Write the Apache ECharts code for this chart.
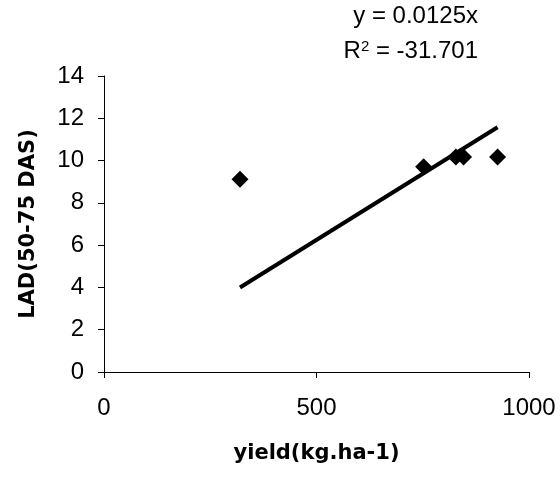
<!DOCTYPE html>
<html>
<head>
<meta charset="utf-8">
<script src="https://cdn.jsdelivr.net/npm/echarts@6/dist/echarts.min.js"></script>
<style>html,body{margin:0;padding:0;background:#fff}#c{width:560px;height:479px}</style>
</head>
<body>
<div id="c"></div>
<script>
var yieldValues = [320, 752, 828, 846, 926];
var ladValues = [9.12, 9.71, 10.17, 10.17, 10.17];
var trendSlope = 0.0125;
var equationText = 'y = 0.0125x';
var r2Value = '-31.701';
var xTicks = [0, 500, 1000];
var yTicks = [0, 2, 4, 6, 8, 10, 12, 14];

var points = yieldValues.map(function (x, i) { return [x, ladValues[i]]; });
var xMin = Math.min.apply(null, yieldValues), xMax = Math.max.apply(null, yieldValues);
var trend = [[xMin, trendSlope * xMin], [xMax, trendSlope * xMax]];

var font = 'Liberation Sans, Arial, sans-serif';
var titleFont = 'DejaVu Sans, sans-serif';
var chart = echarts.init(document.getElementById('c'));
chart.setOption({
  animation: false,
  backgroundColor: '#fff',
  grid: { left: 104, right: 31, top: 76, bottom: 107 },
  xAxis: {
    type: 'value', min: xTicks[0], max: xTicks[xTicks.length - 1], interval: xTicks[1] - xTicks[0],
    name: 'yield(kg.ha-1)', nameLocation: 'middle', nameGap: 71,
    nameTextStyle: { fontFamily: titleFont, fontSize: 21, fontWeight: 'bold', color: '#000' },
    axisLine: { show: true, lineStyle: { color: '#000', width: 1 } },
    axisTick: { show: true, inside: false, length: 6, lineStyle: { color: '#000' } },
    axisLabel: { fontFamily: font, fontSize: 24, color: '#000', margin: 24, formatter: function (v) { return String(v); } },
    splitLine: { show: false }
  },
  yAxis: {
    type: 'value', min: yTicks[0], max: yTicks[yTicks.length - 1], interval: yTicks[1] - yTicks[0],
    name: 'LAD(50-75 DAS)', nameLocation: 'middle', nameGap: 65, nameRotate: 90,
    nameTextStyle: { fontFamily: titleFont, fontSize: 21, fontWeight: 'bold', color: '#000' },
    axisLine: { show: true, lineStyle: { color: '#000', width: 1 } },
    axisTick: { show: true, inside: false, length: 6, lineStyle: { color: '#000' } },
    axisLabel: { fontFamily: font, fontSize: 24, color: '#000', margin: 20 },
    splitLine: { show: false }
  },
  graphic: [
    { type: 'text', right: 82, top: 4, style: { text: equationText, font: '24px ' + font, fill: '#000' } },
    { type: 'text', right: 82, top: 39, style: {
        text: '{b|R}{s|2}{b| = ' + r2Value + '}',
        rich: { b: { fontFamily: font, fontSize: 24, color: '#000' },
                s: { fontFamily: font, fontSize: 15, verticalAlign: 'top', color: '#000', padding: [0, 0, 8, 0] } }
      } }
  ],
  series: [
    { type: 'line', data: trend, symbol: 'none', lineStyle: { color: '#000', width: 4 }, z: 2 },
    { type: 'scatter', data: points, symbol: 'diamond', symbolSize: 17, itemStyle: { color: '#000', opacity: 1 }, z: 3 }
  ]
});
</script>
</body>
</html>
